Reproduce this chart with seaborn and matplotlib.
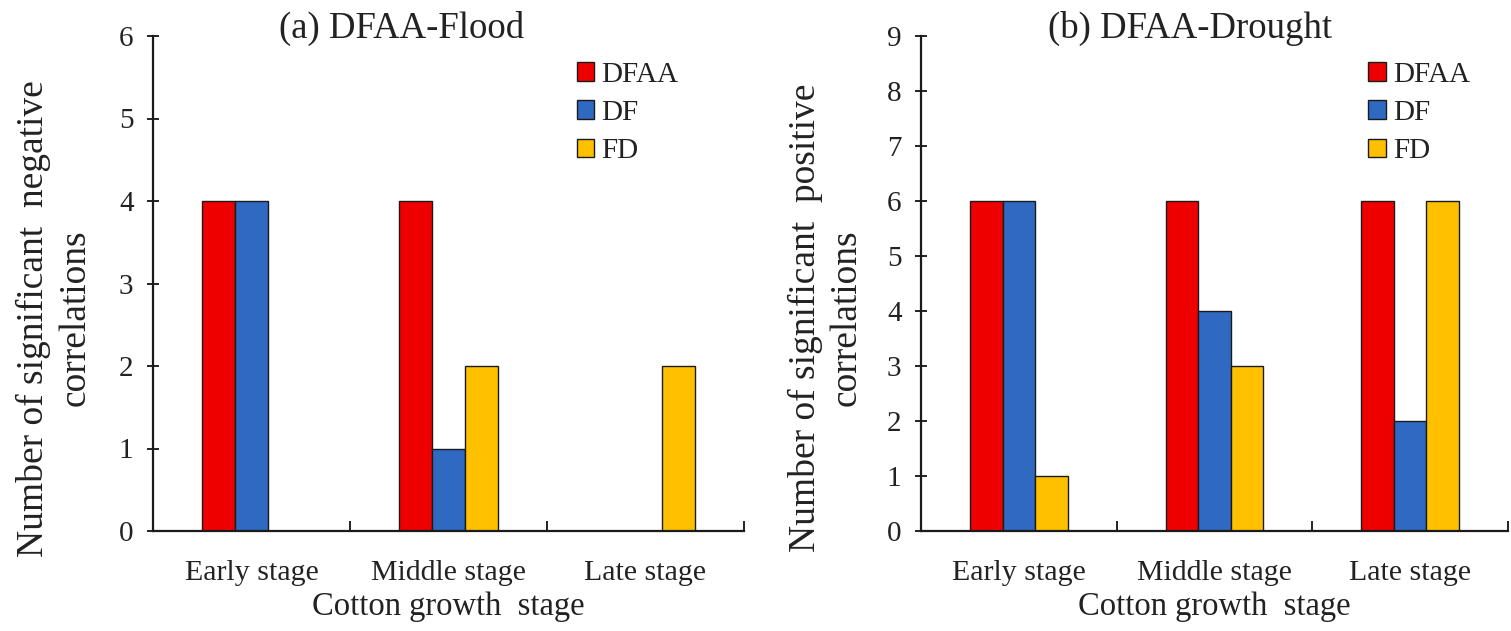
import numpy as np
import pandas as pd
import matplotlib
matplotlib.use("Agg")
import matplotlib.pyplot as plt
from matplotlib.ticker import FixedLocator
import seaborn as sns

# ---- data -------------------------------------------------------------
stages = ["Early stage", "Middle stage", "Late stage"]
series = ["DFAA", "DF", "FD"]

flood_dfaa = [4, 4, 0]
flood_df = [4, 1, 0]
flood_fd = [0, 2, 2]

drought_dfaa = [6, 6, 6]
drought_df = [6, 4, 2]
drought_fd = [1, 3, 6]

colors = ["#EE0000", "#2F69C2", "#FFC000"]


def long_table(dfaa, df, fd):
    rows = []
    for name, vals in zip(series, [dfaa, df, fd]):
        for st, v in zip(stages, vals):
            rows.append({"stage": st, "index": name, "count": v})
    return pd.DataFrame(rows)


flood = long_table(flood_dfaa, flood_df, flood_fd)
drought = long_table(drought_dfaa, drought_df, drought_fd)

# ---- style ------------------------------------------------------------
sns.set_style("ticks")
plt.rcParams["font.family"] = ["Liberation Serif", "DejaVu Serif"]
TXT = "#222222"
plt.rcParams["text.color"] = TXT
plt.rcParams["axes.labelcolor"] = TXT
plt.rcParams["xtick.color"] = TXT
plt.rcParams["ytick.color"] = TXT

fig = plt.figure(figsize=(15.11, 6.31), dpi=100)
W, H = 1511, 631


def add_axes(x0, x1, y_top, y_bot):
    return fig.add_axes([x0 / W, (H - y_bot) / H, (x1 - x0) / W, (y_bot - y_top) / H])


ax1 = add_axes(153, 744, 36, 531)
ax2 = add_axes(921, 1508, 36, 531)

panels = [
    (ax1, flood, 6, "(a) DFAA-Flood", 0.42,
     "Number of significant  negative\ncorrelations", -0.1675, 0.717),
    (ax2, drought, 9, "(b) DFAA-Drought", 0.458,
     "Number of significant  positive\ncorrelations", -0.162, 0.7615),
]

for ax, data, ymax, title, tx, ylab, ylx, legx in panels:
    sns.barplot(data=data, x="stage", y="count", hue="index",
                order=stages, hue_order=series, palette=colors,
                width=0.5, edgecolor="#1a1a1a", linewidth=1.0,
                saturation=1, ax=ax)

    ax.set_xlim(-0.5, 2.5)
    ax.set_ylim(0, ymax)
    ax.set_yticks(np.arange(0, ymax + 1, 1))

    for s in ["top", "right"]:
        ax.spines[s].set_visible(False)
    for s in ["left", "bottom"]:
        ax.spines[s].set_linewidth(1.6)
        ax.spines[s].set_color("#1a1a1a")

    ax.tick_params(axis="y", direction="inout", length=8, width=1.4,
                   labelsize=21, pad=10)
    ax.tick_params(axis="x", which="major", length=0, labelsize=21.5, pad=21)
    ax.xaxis.set_minor_locator(FixedLocator([-0.5, 0.5, 1.5, 2.5]))
    ax.tick_params(axis="x", which="minor", direction="in", length=7, width=1.4)

    ax.set_xlabel("Cotton growth  stage", fontsize=23.5, labelpad=4)
    ax.set_ylabel(ylab, fontsize=27, linespacing=1.25, ha="center", va="center")
    ax.yaxis.set_label_coords(ylx, 0.43)

    ax.text(tx, 1.016, title, transform=ax.transAxes, ha="center",
            va="center", fontsize=26.5)

    handles, labels = ax.get_legend_handles_labels()
    ax.legend(handles, labels, loc="upper left", bbox_to_anchor=(legx, 0.948),
              frameon=False, fontsize=21, handlelength=0.6, handleheight=0.6,
              handletextpad=0.25, labelspacing=0.42, borderpad=0,
              borderaxespad=0)

fig.savefig("out.png", dpi=100, facecolor="white")
